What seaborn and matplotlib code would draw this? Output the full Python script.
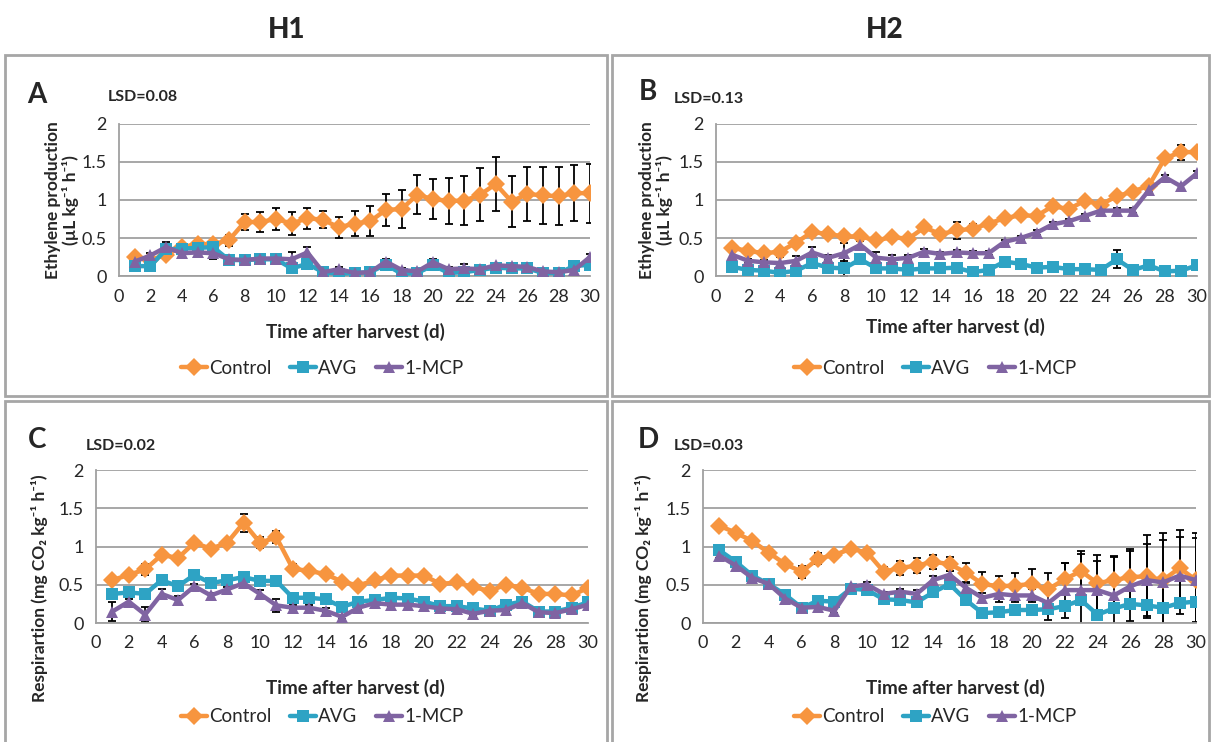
import numpy as np
import pandas as pd
import matplotlib
matplotlib.use("Agg")
import matplotlib.pyplot as plt
from matplotlib.patches import Rectangle
import seaborn as sns

# ---- data ----
days = list(range(1, 31))
treatments = ["Control", "AVG", "1-MCP"]

# A: ethylene, harvest 1
eth_h1_control = [0.25, 0.21, 0.28, 0.38, 0.42, 0.42, 0.47, 0.71, 0.71, 0.75, 0.69, 0.76, 0.74, 0.64, 0.69,
                  0.72, 0.87, 0.88, 1.07, 1.01, 0.99, 0.99, 1.07, 1.21, 0.98, 1.08, 1.06, 1.05, 1.09, 1.09]
eth_h1_avg = [0.13, 0.13, 0.35, 0.36, 0.37, 0.38, 0.21, 0.21, 0.22, 0.22, 0.10, 0.16, 0.05, 0.03, 0.04,
              0.05, 0.15, 0.03, 0.04, 0.14, 0.04, 0.05, 0.08, 0.11, 0.10, 0.10, 0.04, 0.04, 0.13, 0.15]
eth_h1_mcp = [0.19, 0.27, 0.38, 0.30, 0.31, 0.30, 0.22, 0.21, 0.23, 0.23, 0.22, 0.31, 0.05, 0.09, 0.04,
              0.05, 0.19, 0.08, 0.06, 0.18, 0.09, 0.10, 0.09, 0.14, 0.13, 0.12, 0.06, 0.05, 0.08, 0.25]
eth_h1_control_err = [0.04, 0.03, 0.04, 0.04, 0.05, 0.05, 0.07, 0.10, 0.13, 0.14, 0.15, 0.14, 0.11, 0.14, 0.16,
                      0.20, 0.21, 0.25, 0.26, 0.26, 0.30, 0.32, 0.35, 0.36, 0.34, 0.36, 0.38, 0.38, 0.37, 0.39]
eth_h1_avg_err = [0.02] * 30
eth_h1_mcp_err = [0.03, 0.03, 0.07, 0.03, 0.03, 0.08, 0.03, 0.03, 0.03, 0.05, 0.10, 0.07, 0.03, 0.03, 0.03,
                  0.03, 0.04, 0.03, 0.03, 0.04, 0.03, 0.06, 0.03, 0.03, 0.03, 0.05, 0.03, 0.03, 0.03, 0.04]

# B: ethylene, harvest 2
eth_h2_control = [0.37, 0.33, 0.30, 0.32, 0.44, 0.58, 0.55, 0.52, 0.52, 0.47, 0.51, 0.49, 0.64, 0.55, 0.60,
                  0.62, 0.69, 0.76, 0.80, 0.79, 0.92, 0.88, 0.99, 0.94, 1.05, 1.11, 1.19, 1.55, 1.63, 1.63]
eth_h2_avg = [0.12, 0.08, 0.07, 0.04, 0.07, 0.17, 0.11, 0.10, 0.22, 0.10, 0.10, 0.08, 0.10, 0.10, 0.11,
              0.05, 0.08, 0.19, 0.16, 0.11, 0.12, 0.09, 0.09, 0.08, 0.22, 0.08, 0.14, 0.06, 0.07, 0.14]
eth_h2_mcp = [0.28, 0.20, 0.18, 0.17, 0.20, 0.31, 0.24, 0.30, 0.41, 0.24, 0.22, 0.24, 0.32, 0.29, 0.31,
              0.30, 0.30, 0.45, 0.50, 0.57, 0.68, 0.72, 0.79, 0.86, 0.86, 0.86, 1.13, 1.30, 1.18, 1.35]
eth_h2_control_err = [0.03, 0.03, 0.03, 0.03, 0.03, 0.03, 0.03, 0.03, 0.03, 0.03, 0.03, 0.03, 0.03, 0.03, 0.11,
                      0.06, 0.03, 0.03, 0.03, 0.04, 0.03, 0.03, 0.03, 0.03, 0.03, 0.04, 0.03, 0.03, 0.10, 0.03]
eth_h2_avg_err = [0.02, 0.02, 0.02, 0.02, 0.02, 0.02, 0.02, 0.10, 0.02, 0.02, 0.02, 0.02, 0.02, 0.02, 0.02,
                  0.02, 0.02, 0.02, 0.02, 0.02, 0.02, 0.02, 0.02, 0.02, 0.12, 0.02, 0.02, 0.02, 0.02, 0.02]
eth_h2_mcp_err = [0.07, 0.03, 0.03, 0.08, 0.06, 0.07, 0.03, 0.13, 0.05, 0.07, 0.06, 0.03, 0.03, 0.03, 0.03,
                  0.03, 0.03, 0.03, 0.03, 0.03, 0.03, 0.03, 0.03, 0.03, 0.03, 0.03, 0.03, 0.03, 0.03, 0.03]

# C: respiration, harvest 1
resp_h1_control = [0.56, 0.63, 0.70, 0.89, 0.85, 1.05, 0.97, 1.05, 1.31, 1.05, 1.12, 0.71, 0.68, 0.64, 0.54,
                   0.49, 0.56, 0.62, 0.62, 0.62, 0.51, 0.53, 0.47, 0.42, 0.50, 0.46, 0.38, 0.38, 0.36, 0.46]
resp_h1_avg = [0.38, 0.40, 0.38, 0.56, 0.48, 0.63, 0.52, 0.56, 0.60, 0.55, 0.55, 0.33, 0.33, 0.31, 0.21,
               0.28, 0.30, 0.33, 0.32, 0.28, 0.22, 0.22, 0.19, 0.16, 0.24, 0.28, 0.15, 0.15, 0.20, 0.27]
resp_h1_mcp = [0.15, 0.28, 0.11, 0.38, 0.30, 0.48, 0.36, 0.44, 0.52, 0.38, 0.23, 0.20, 0.20, 0.16, 0.08,
               0.20, 0.26, 0.24, 0.24, 0.22, 0.19, 0.18, 0.12, 0.16, 0.17, 0.26, 0.14, 0.13, 0.18, 0.24]
resp_h1_control_err = [0.04, 0.04, 0.07, 0.04, 0.04, 0.04, 0.05, 0.04, 0.12, 0.07, 0.08, 0.06, 0.05, 0.05, 0.04,
                       0.04, 0.04, 0.05, 0.05, 0.05, 0.05, 0.04, 0.04, 0.04, 0.05, 0.04, 0.04, 0.04, 0.04, 0.04]
resp_h1_avg_err = [0.02] * 30
resp_h1_mcp_err = [0.12, 0.03, 0.10, 0.07, 0.05, 0.03, 0.03, 0.03, 0.03, 0.05, 0.08, 0.03, 0.03, 0.03, 0.03,
                   0.03, 0.03, 0.03, 0.03, 0.03, 0.03, 0.03, 0.03, 0.03, 0.03, 0.03, 0.03, 0.03, 0.03, 0.03]

# D: respiration, harvest 2
resp_h2_control = [1.27, 1.18, 1.07, 0.92, 0.77, 0.67, 0.84, 0.89, 0.97, 0.92, 0.67, 0.72, 0.75, 0.80, 0.77,
                   0.66, 0.51, 0.48, 0.49, 0.51, 0.44, 0.57, 0.68, 0.52, 0.56, 0.60, 0.61, 0.56, 0.72, 0.56]
resp_h2_avg = [0.95, 0.80, 0.62, 0.51, 0.37, 0.20, 0.29, 0.28, 0.45, 0.43, 0.31, 0.30, 0.27, 0.40, 0.51,
               0.30, 0.13, 0.14, 0.17, 0.17, 0.18, 0.22, 0.30, 0.11, 0.19, 0.25, 0.23, 0.20, 0.26, 0.28]
resp_h2_mcp = [0.88, 0.75, 0.59, 0.51, 0.32, 0.20, 0.21, 0.16, 0.48, 0.50, 0.38, 0.41, 0.38, 0.56, 0.63,
               0.46, 0.33, 0.38, 0.36, 0.36, 0.26, 0.43, 0.43, 0.43, 0.36, 0.48, 0.56, 0.53, 0.62, 0.56]
resp_h2_control_err = [0.04, 0.04, 0.03, 0.03, 0.04, 0.08, 0.07, 0.05, 0.03, 0.04, 0.06, 0.09, 0.10, 0.09, 0.09,
                       0.12, 0.16, 0.14, 0.17, 0.19, 0.21, 0.21, 0.26, 0.37, 0.32, 0.37, 0.54, 0.62, 0.49, 0.61]
resp_h2_avg_err = [0.02] * 30
resp_h2_mcp_err = [0.03, 0.03, 0.03, 0.03, 0.03, 0.03, 0.03, 0.03, 0.03, 0.03, 0.03, 0.03, 0.05, 0.05, 0.05,
                   0.06, 0.06, 0.10, 0.08, 0.08, 0.22, 0.36, 0.47, 0.38, 0.50, 0.46, 0.47, 0.55, 0.50, 0.55]

lsd_labels = ["LSD=0.08", "LSD=0.13", "LSD=0.02", "LSD=0.03"]
panel_letters = ["A", "B", "C", "D"]
eth_label = "Ethylene production\n(µL kg⁻¹ h⁻¹)"
resp_label = "Respirartion (mg CO₂ kg⁻¹ h⁻¹)"

# ---- style ----
sns.set_style("white")
plt.rcParams["font.family"] = ["Lato", "DejaVu Sans"]
palette = {"Control": "#F7953F", "AVG": "#2EA3C4", "1-MCP": "#8064A2"}
markers = {"Control": "D", "AVG": "s", "1-MCP": "^"}

W, H = 1213, 742
fig = plt.figure(figsize=(W / 100, H / 100), dpi=100)


def fx(x):
    return x / W


def fy(y):
    return 1 - y / H


# panel frames
for (x0, y0, x1, y1) in [(5, 55, 607, 396), (612, 55, 1209, 396), (5, 401, 607, 745), (612, 401, 1209, 745)]:
    fig.patches.append(Rectangle((fx(x0), fy(y1)), fx(x1 - x0), (y1 - y0) / H, transform=fig.transFigure,
                                 fill=False, edgecolor="#a6a6a6", linewidth=2.0, zorder=0))

fig.text(fx(287), fy(30), "H1", ha="center", va="center", fontsize=20, fontweight="black")
fig.text(fx(885), fy(30), "H2", ha="center", va="center", fontsize=20, fontweight="black")

panels = [
    dict(series=(eth_h1_control, eth_h1_avg, eth_h1_mcp), errs=(eth_h1_control_err, eth_h1_avg_err, eth_h1_mcp_err),
         box=(119, 590, 124, 276), ylabel=eth_label, ylab_xy=(62, 200), letter_xy=(37, 95), lsd_xy=(108, 97),
         xlab_xy=(355, 332), leg_xy=(322, 368)),
    dict(series=(eth_h2_control, eth_h2_avg, eth_h2_mcp), errs=(eth_h2_control_err, eth_h2_avg_err, eth_h2_mcp_err),
         box=(716, 1197, 124, 276), ylabel=eth_label, ylab_xy=(656, 200), letter_xy=(648, 92), lsd_xy=(674, 99),
         xlab_xy=(955, 327), leg_xy=(935, 368)),
    dict(series=(resp_h1_control, resp_h1_avg, resp_h1_mcp), errs=(resp_h1_control_err, resp_h1_avg_err, resp_h1_mcp_err),
         box=(96, 588, 470, 623), ylabel=resp_label, ylab_xy=(40, 588), letter_xy=(37, 440), lsd_xy=(86, 446),
         xlab_xy=(355, 688), leg_xy=(322, 717)),
    dict(series=(resp_h2_control, resp_h2_avg, resp_h2_mcp), errs=(resp_h2_control_err, resp_h2_avg_err, resp_h2_mcp_err),
         box=(703, 1196, 470, 623), ylabel=resp_label, ylab_xy=(643, 588), letter_xy=(648, 440), lsd_xy=(674, 446),
         xlab_xy=(955, 688), leg_xy=(935, 717)),
]

leg_handles, leg_labels = None, None
for i, p in enumerate(panels):
    xl, xr, yt, yb = p["box"]
    ax = fig.add_axes([fx(xl), fy(yb), (xr - xl) / W, (yb - yt) / H])
    df = pd.concat([pd.DataFrame({"day": days, "value": vals, "treatment": t})
                    for t, vals in zip(treatments, p["series"])], ignore_index=True)
    for t, vals, err in zip(treatments, p["series"], p["errs"]):
        ax.errorbar(days, vals, yerr=err, fmt="none", ecolor="black", elinewidth=1.3,
                    capsize=3, capthick=1.3, zorder=2)
    sns.lineplot(data=df, x="day", y="value", hue="treatment", style="treatment", hue_order=treatments,
                 style_order=treatments, palette=palette, markers=markers, dashes=False, linewidth=3.2,
                 markersize=9, markeredgewidth=0, ax=ax, legend=(i == 0), zorder=3)
    if i == 0:
        leg_handles, leg_labels = ax.get_legend_handles_labels()
        ax.get_legend().remove()
    ax.set_xlim(0, 30)
    ax.set_ylim(0, 2)
    ax.set_xticks(range(0, 31, 2))
    ax.set_xticks(range(0, 31), minor=True)
    ax.set_yticks([0, 0.5, 1, 1.5, 2])
    ax.set_yticklabels(["0", "0.5", "1", "1.5", "2"])
    ax.grid(axis="y", color="#a0a0a0", linewidth=1.3)
    ax.set_axisbelow(True)
    for s in ["top", "right"]:
        ax.spines[s].set_visible(False)
    for s in ["left", "bottom"]:
        ax.spines[s].set_color("#a0a0a0")
        ax.spines[s].set_linewidth(1.3)
    ax.tick_params(axis="both", which="both", direction="out", color="#a0a0a0", width=1.2,
                   length=5, labelsize=13, pad=4)
    ax.set_xlabel("")
    ax.set_ylabel("")

    fig.text(fx(p["ylab_xy"][0]), fy(p["ylab_xy"][1]), p["ylabel"], rotation=90, ha="center", va="center",
             fontsize=12.5, fontweight="bold", linespacing=1.1)
    fig.text(fx(p["letter_xy"][0]), fy(p["letter_xy"][1]), panel_letters[i], ha="center", va="center",
             fontsize=20, fontweight="bold")
    fig.text(fx(p["lsd_xy"][0]), fy(p["lsd_xy"][1]), lsd_labels[i], ha="left", va="center",
             fontsize=11.5, fontweight="bold")
    fig.text(fx(p["xlab_xy"][0]), fy(p["xlab_xy"][1]), "Time after harvest (d)", ha="center", va="center",
             fontsize=13.5, fontweight="bold")
    fig.legend(leg_handles, leg_labels, loc="center", bbox_to_anchor=(fx(p["leg_xy"][0]), fy(p["leg_xy"][1])),
               ncol=3, frameon=False, handlelength=1.4, handletextpad=0.1, columnspacing=1.0,
               prop={"size": 13.5})

fig.savefig("out.png", dpi=100)
